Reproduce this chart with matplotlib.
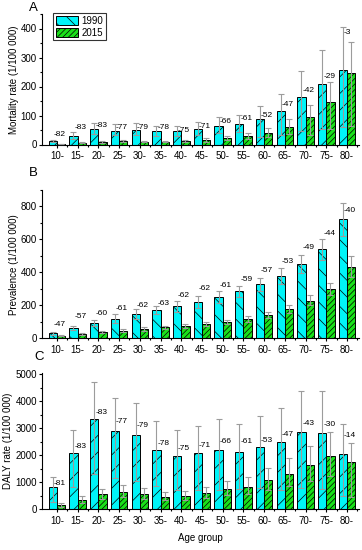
import numpy as np
import matplotlib
matplotlib.use("Agg")
import matplotlib.pyplot as plt
from matplotlib.patches import Patch
from matplotlib.ticker import MultipleLocator

plt.rcParams['font.family'] = ['Liberation Sans', 'DejaVu Sans']
plt.rcParams['hatch.linewidth'] = 0.5

age_groups = ["10-", "15-", "20-", "25-", "30-", "35-", "40-", "45-",
              "50-", "55-", "60-", "65-", "70-", "75-", "80-"]

# Panel A: mortality rate
mort_1990 = [12, 31, 52, 48, 50, 45, 45, 52, 63, 70, 88, 116, 165, 209, 256]
mort_1990_hi = [16, 42, 75, 69, 73, 65, 65, 78, 95, 103, 133, 173, 253, 325, 404]
mort_1990_lo = [8, 20, 35, 32, 33, 29, 28, 33, 38, 42, 27, 34, 45, 54, 62]
mort_2015 = [2, 6, 8, 11, 10, 10, 12, 15, 21, 29, 41, 62, 95, 148, 248]
mort_2015_hi = [3, 7, 11, 14, 13, 13, 15, 22, 31, 39, 58, 89, 135, 217, 355]
mort_2015_lo = [1, 4, 6, 8, 7, 7, 8, 10, 14, 19, 27, 36, 32, 52, 63]
mort_change = ["-82", "-83", "-83", "-77", "-79", "-78", "-75", "-71",
               "-66", "-61", "-52", "-47", "-42", "-29", "-3"]
mort_label_y = [36, 60, 66, 60, 60, 57, 49, 61, 79, 90, 100, 139, 187, 235, 385]

# Panel B: prevalence
prev_1990 = [30, 63, 93, 120, 146, 173, 193, 218, 250, 285, 329, 378, 451, 539, 722]
prev_1990_hi = [40, 77, 112, 146, 175, 199, 227, 256, 287, 319, 366, 427, 507, 600, 824]
prev_1990_lo = [22, 48, 72, 95, 118, 145, 160, 185, 215, 248, 290, 330, 395, 475, 620]
prev_2015 = [16, 28, 38, 47, 57, 67, 75, 85, 100, 118, 142, 176, 229, 301, 433]
prev_2015_hi = [19, 32, 44, 55, 66, 75, 85, 97, 114, 136, 161, 201, 262, 336, 498]
prev_2015_lo = [12, 21, 33, 40, 47, 55, 65, 73, 85, 100, 122, 155, 200, 265, 370]
prev_change = ["-47", "-57", "-60", "-61", "-62", "-63", "-62", "-62",
               "-61", "-59", "-57", "-53", "-49", "-44", "-40"]
prev_label_y = [83, 130, 150, 179, 197, 214, 258, 301, 319, 356, 413, 468, 553, 637, 773]

# Panel C: DALY rate
daly_1990 = [810, 2096, 3332, 2908, 2758, 2184, 1960, 2085, 2210, 2135, 2297, 2484, 2859, 2809, 2035]
daly_1990_hi = [1197, 2945, 4705, 4119, 3956, 3257, 2945, 3096, 3333, 3170, 3458, 3758, 4382, 4370, 3146]
daly_1990_lo = [280, 820, 1306, 1160, 1035, 848, 723, 723, 723, 749, 786, 723, 786, 749, 500]
daly_2015 = [150, 350, 562, 649, 562, 474, 487, 612, 749, 824, 1086, 1323, 1648, 1960, 1735]
daly_2015_hi = [225, 475, 749, 886, 774, 649, 686, 836, 1061, 1186, 1523, 1898, 2347, 2846, 2470]
daly_2015_lo = [100, 250, 400, 450, 400, 340, 350, 430, 520, 570, 730, 850, 1050, 1250, 474]
daly_change = ["-81", "-83", "-83", "-77", "-79", "-78", "-75", "-71",
               "-66", "-61", "-53", "-47", "-43", "-30", "-14"]
daly_label_y = [972, 2321, 3595, 3270, 3108, 2432, 2257, 2370, 2495, 2508, 2557, 2781, 3181, 3131, 2744]

C1990 = '#00f4f8'
C2015 = '#19e019'
ECOL = '#9c9c9c'

fig = plt.figure(figsize=(3.62, 5.5), dpi=100)
left, width = 42 / 362, 317 / 362
axA = fig.add_axes([left, 405.5 / 550, width, 130.5 / 550])
axB = fig.add_axes([left, 211.7 / 550, width, 148.3 / 550])
axC = fig.add_axes([left, 40.7 / 550, width, 136.3 / 550])

x = np.arange(len(age_groups))
bw = 0.4


def draw(ax, v90, hi90, lo90, v15, hi15, lo15, labels, laby, hatch90, ylim, major, minor, ylabel):
    v90 = np.array(v90); v15 = np.array(v15)
    ax.bar(x - bw / 2, v90, bw, color=C1990, edgecolor='black', linewidth=0.7,
           hatch=hatch90, zorder=2)
    ax.bar(x + bw / 2, v15, bw, color=C2015, edgecolor='black', linewidth=0.7,
           hatch='//////', zorder=2)
    ax.errorbar(x - bw / 2, v90, yerr=[v90 - np.array(lo90), np.array(hi90) - v90],
                fmt='none', ecolor=ECOL, elinewidth=0.8, capsize=2, capthick=0.8, zorder=3)
    ax.errorbar(x + bw / 2, v15, yerr=[v15 - np.array(lo15), np.array(hi15) - v15],
                fmt='none', ecolor=ECOL, elinewidth=0.8, capsize=2, capthick=0.8, zorder=3)
    for xi, t, yy in zip(x, labels, laby):
        ax.text(xi - bw / 2 + 0.05, yy, t, ha='left', va='center', fontsize=6, zorder=4)
    ax.set_xlim(-0.72, 14.58)
    ax.set_ylim(0, ylim)
    ax.set_xticks(x)
    ax.set_xticklabels(age_groups)
    ax.set_xticks(x + 0.5, minor=True)
    ax.yaxis.set_major_locator(MultipleLocator(major))
    ax.yaxis.set_minor_locator(MultipleLocator(minor))
    ax.tick_params(axis='both', which='major', direction='out', length=2.2, width=0.8,
                   labelsize=7, pad=1.5)
    ax.tick_params(axis='x', which='major', pad=2.5)
    ax.tick_params(axis='both', which='minor', direction='out', length=1.5, width=0.8)
    for s in ['top', 'right']:
        ax.spines[s].set_visible(False)
    for s in ['left', 'bottom']:
        ax.spines[s].set_linewidth(0.8)
    ax.set_ylabel(ylabel, fontsize=7, labelpad=1.5)


draw(axA, mort_1990, mort_1990_hi, mort_1990_lo, mort_2015, mort_2015_hi, mort_2015_lo,
     mort_change, mort_label_y, '//', 450, 100, 50, 'Mortality rate (1/100 000)')
draw(axB, prev_1990, prev_1990_hi, prev_1990_lo, prev_2015, prev_2015_hi, prev_2015_lo,
     prev_change, prev_label_y, '\\\\', 900, 200, 100, 'Prevalence (1/100 000)')
draw(axC, daly_1990, daly_1990_hi, daly_1990_lo, daly_2015, daly_2015_hi, daly_2015_lo,
     daly_change, daly_label_y, '//', 5050, 1000, 500, 'DALY rate (1/100 000)')
axC.set_xlabel('Age group', fontsize=7, labelpad=5)

handles = [Patch(facecolor=C1990, edgecolor='black', hatch='\\\\', linewidth=0.7, label='1990'),
           Patch(facecolor=C2015, edgecolor='black', hatch='//////', linewidth=0.7, label='2015')]
leg = axA.legend(handles=handles, loc='upper left', bbox_to_anchor=(0.035, 1.01),
                 fontsize=7, frameon=True, fancybox=False, edgecolor='black',
                 handlelength=2.3, handleheight=1.05, labelspacing=0.2,
                 handletextpad=0.35, borderpad=0.3, borderaxespad=0)
leg.get_frame().set_linewidth(0.8)

fig.text(33 / 362, 1 - 8 / 550, 'A', fontsize=9.5, ha='center', va='center')
fig.text(33 / 362, 1 - 173 / 550, 'B', fontsize=9.5, ha='center', va='center')
fig.text(39 / 362, 1 - 357 / 550, 'C', fontsize=9.5, ha='center', va='center')

fig.savefig('out.png', dpi=100, facecolor='white')
